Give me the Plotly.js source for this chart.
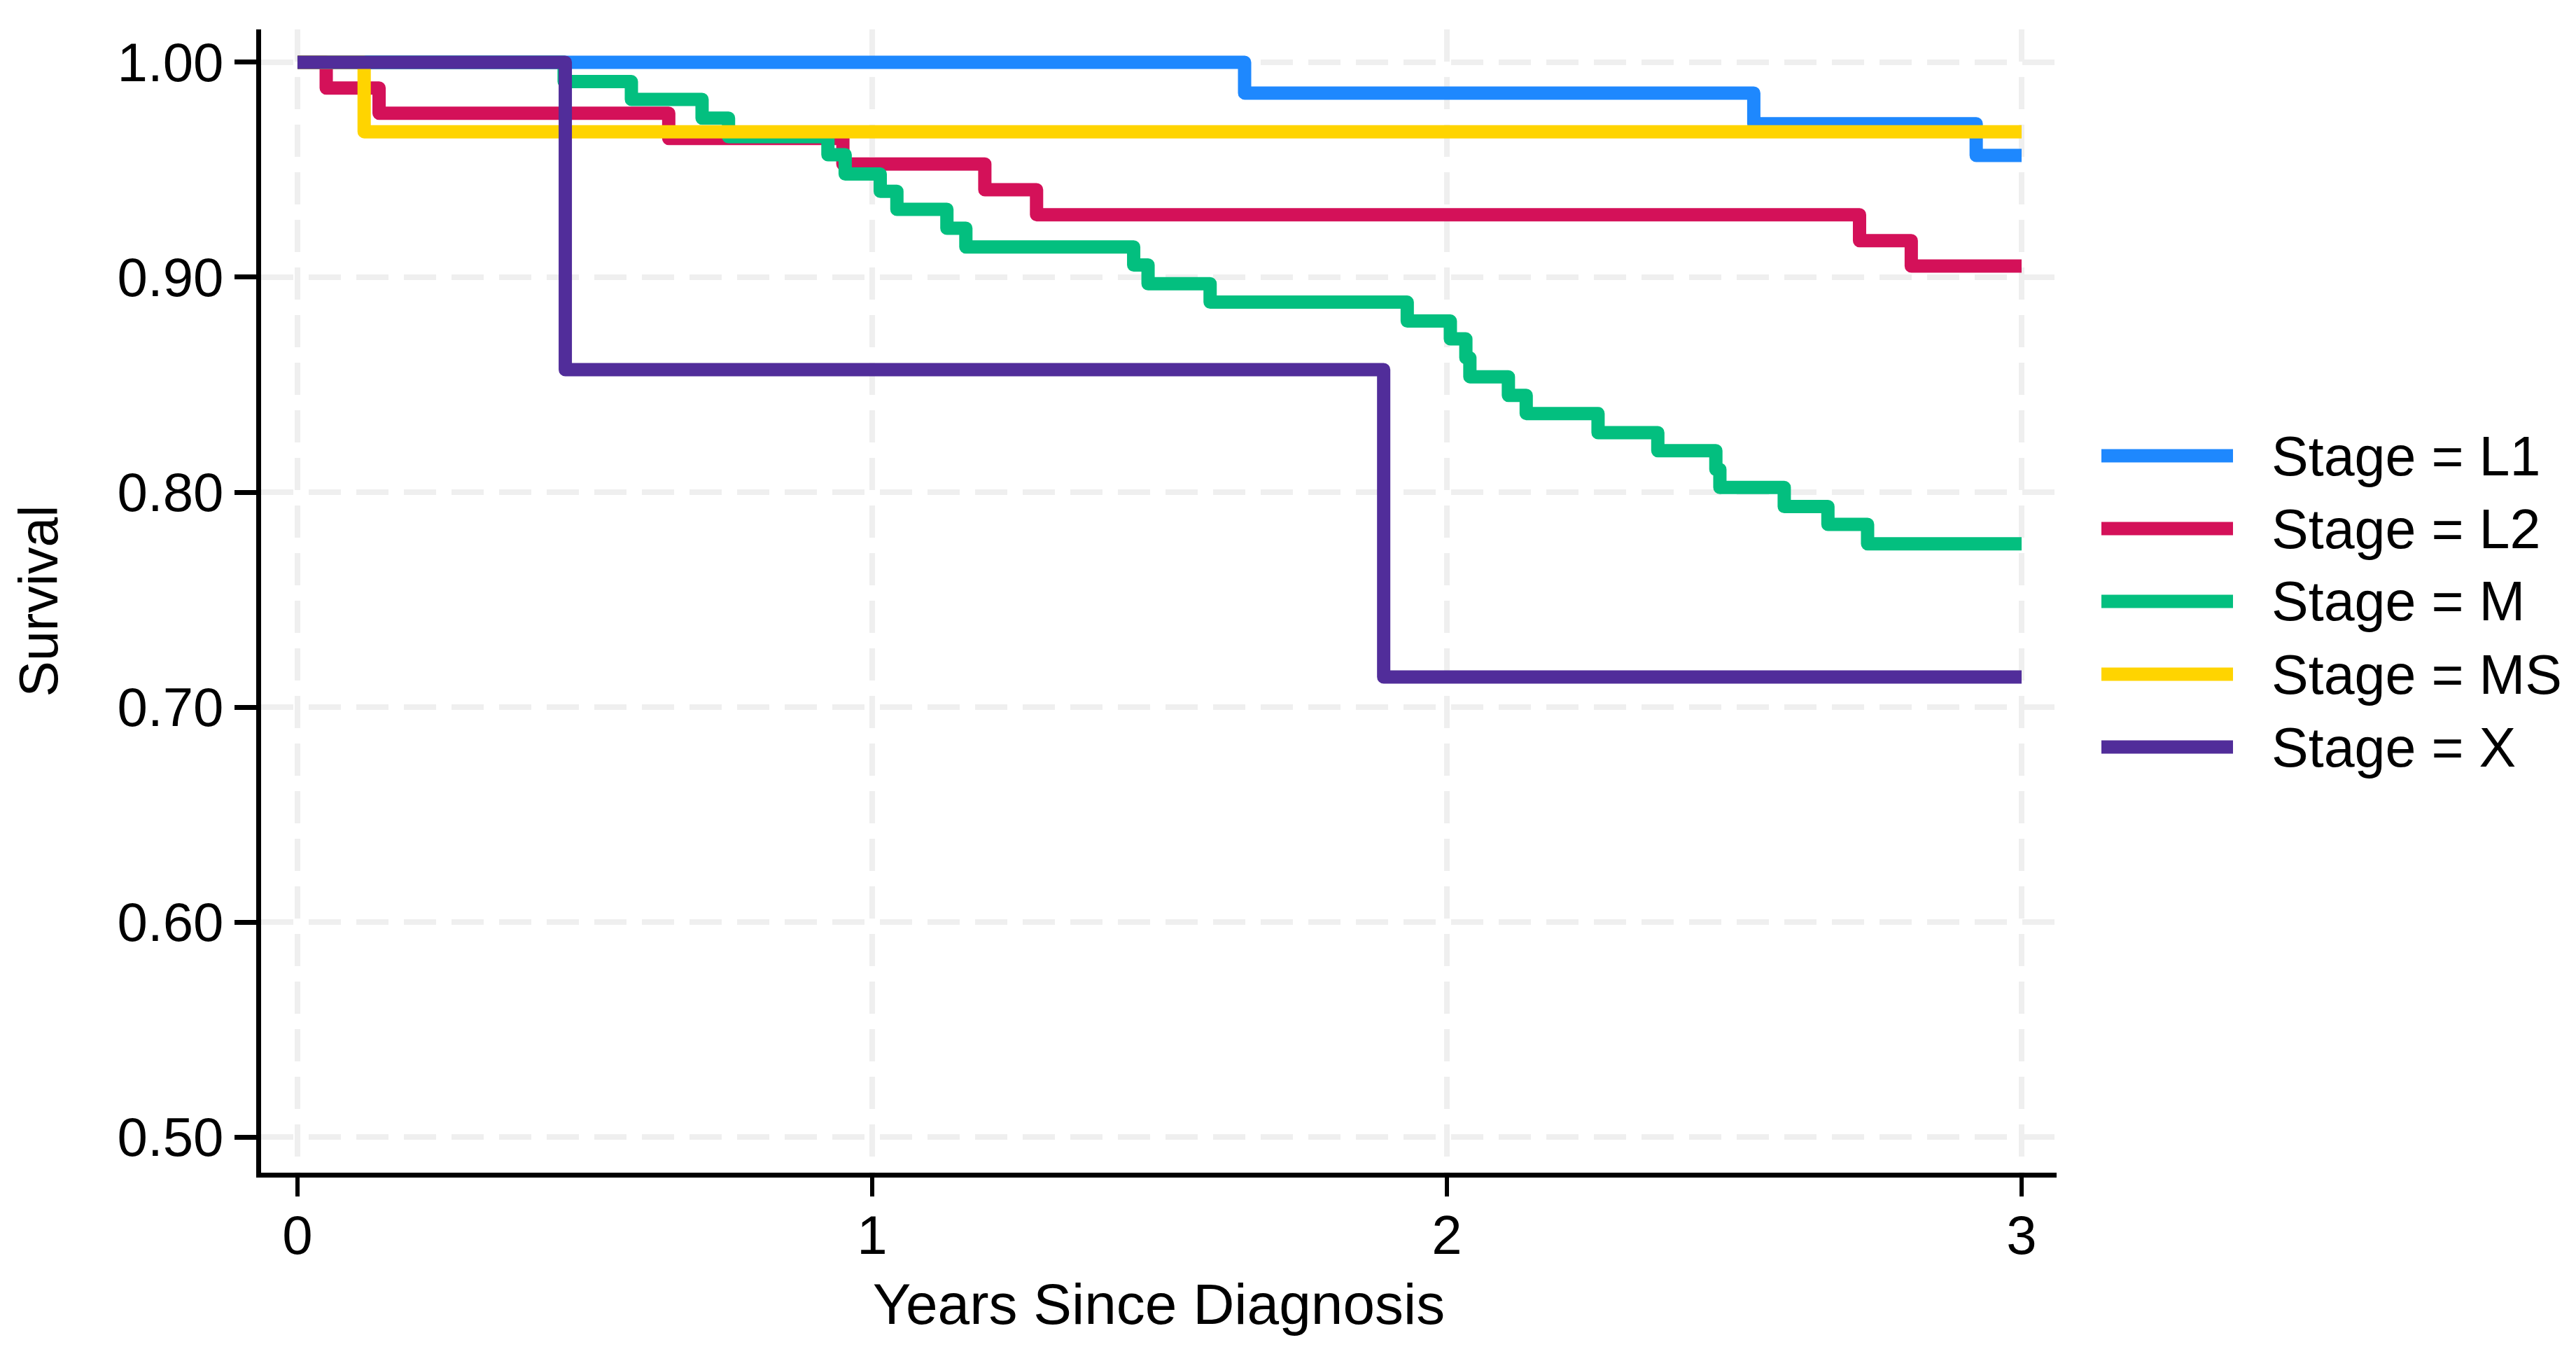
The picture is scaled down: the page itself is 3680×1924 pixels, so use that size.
<!DOCTYPE html>
<html>
<head>
<meta charset="utf-8">
<script src="https://cdn.plot.ly/plotly-3.0.1.min.js"></script>
<style>html,body{margin:0;padding:0;background:#fff;}#chart{width:3680px;height:1924px;}</style>
</head>
<body>
<div id="chart"></div>
<script>
// ---- data ----
const stageNames = ["Stage = L1", "Stage = L2", "Stage = M", "Stage = MS", "Stage = X"];
const stageColors = ["#1E88FE", "#D41159", "#03BF7F", "#FFD400", "#512D9A"];

const timeL1 = [0, 1.648, 2.534, 2.921, 3.0];
const survL1 = [1, 0.9857, 0.9714, 0.9567, 0.9567];

const timeL2 = [0, 0.050, 0.142, 0.646, 0.949, 1.196, 1.286, 2.718, 2.808, 3.0];
const survL2 = [1, 0.988, 0.9763, 0.9646, 0.9527, 0.9407, 0.9291, 0.917, 0.9052, 0.9052];

const timeM = [0, 0.464, 0.581, 0.704, 0.750, 0.923, 0.953, 1.014, 1.043, 1.130, 1.163, 1.455, 1.480, 1.588, 1.931,
               2.006, 2.033, 2.040, 2.107, 2.138, 2.263, 2.367, 2.468, 2.475, 2.587, 2.663, 2.732, 3.0];
const survM = [1, 0.991, 0.9827, 0.974, 0.9654, 0.957, 0.948, 0.940, 0.9316, 0.9228, 0.9141, 0.9057, 0.897, 0.8884, 0.8796,
               0.8713, 0.8625, 0.8537, 0.845, 0.8366, 0.8277, 0.8193, 0.8106, 0.8022, 0.7933, 0.785, 0.776, 0.776];

const timeMS = [0, 0.116, 3.0];
const survMS = [1, 0.9677, 0.9677];

const timeX = [0, 0.466, 1.890, 3.0];
const survX = [1, 0.857, 0.714, 0.714];

const xTickVals = [0, 1, 2, 3];
const xTickText = ["0", "1", "2", "3"];
const yTickVals = [0.5, 0.6, 0.7, 0.8, 0.9, 1.0];
const yTickText = ["0.50", "0.60", "0.70", "0.80", "0.90", "1.00"];

const xTitle = "Years Since Diagnosis";
const yTitle = "Survival";

// ---- layout geometry (pixels) ----
const W = 3680, H = 1924;
const M = {l: 373, r: 742, t: 42, b: 249};
const plotW = W - M.l - M.r, plotH = H - M.t - M.b;
const toPaperX = px => (px - M.l) / plotW;
const toPaperY = py => (H - M.b - py) / plotH;

const FONT = "Liberation Sans, Arial, sans-serif";

// ---- traces ----
const times = [timeL1, timeL2, timeM, timeMS, timeX];
const survs = [survL1, survL2, survM, survMS, survX];

const traces = stageNames.map((name, i) => ({
  type: "scatter",
  mode: "lines",
  name: name,
  x: times[i],
  y: survs[i],
  line: {shape: "hv", color: stageColors[i], width: 19},
  showlegend: false,
  hoverinfo: "skip"
}));

// ---- custom legend (swatch lines + real text) ----
const legSwatchX0 = 3002, legSwatchX1 = 3190, legTextX = 3243;
const legFirstY = 651, legStep = 104;
const shapes = [];
const annotations = [];
stageNames.forEach((name, i) => {
  const cy = legFirstY + i * legStep;
  shapes.push({
    type: "line", xref: "paper", yref: "paper", layer: "above",
    x0: toPaperX(legSwatchX0), x1: toPaperX(legSwatchX1),
    y0: toPaperY(cy), y1: toPaperY(cy),
    line: {color: stageColors[i], width: 19}
  });
  annotations.push({
    xref: "paper", yref: "paper",
    x: toPaperX(legTextX), y: toPaperY(cy),
    xanchor: "left", yanchor: "middle",
    text: name, showarrow: false,
    font: {family: FONT, size: 79, color: "#000000"}
  });
});

const gridCol = "#EFEFEF";

const layout = {
  width: W,
  height: H,
  paper_bgcolor: "#ffffff",
  plot_bgcolor: "#ffffff",
  margin: {l: M.l, r: M.r, t: M.t, b: M.b, pad: 0},
  font: {family: FONT, color: "#000000", size: 77},
  showlegend: false,
  shapes: shapes,
  annotations: annotations,
  xaxis: {
    range: [-0.0633, 3.0609],
    tickmode: "array",
    tickvals: xTickVals,
    ticktext: xTickText,
    ticks: "outside",
    ticklen: 27,
    tickwidth: 6,
    tickcolor: "#000000",
    ticklabelstandoff: -12,
    tickfont: {family: FONT, size: 78, color: "#000000"},
    showline: true,
    linecolor: "#000000",
    linewidth: 7,
    showgrid: true,
    gridcolor: gridCol,
    gridwidth: 8,
    griddash: "46px,22px",
    zeroline: false,
    title: {text: xTitle, font: {family: FONT, size: 82, color: "#000000"}, standoff: 30}
  },
  yaxis: {
    range: [0.4834, 1.0153],
    tickmode: "array",
    tickvals: yTickVals,
    ticktext: yTickText,
    ticks: "outside",
    ticklen: 31,
    tickwidth: 7,
    tickcolor: "#000000",
    tickfont: {family: FONT, size: 78, color: "#000000"},
    showline: true,
    linecolor: "#000000",
    linewidth: 7,
    showgrid: true,
    gridcolor: gridCol,
    gridwidth: 8,
    griddash: "46px,22px",
    zeroline: false,
    title: {text: yTitle, font: {family: FONT, size: 77, color: "#000000"}, standoff: 62}
  }
};

Plotly.newPlot("chart", traces, layout, {displayModeBar: false, staticPlot: true}).then(gd => {
  // rounded step corners as in the reference
  gd.querySelectorAll(".scatterlayer path.js-line").forEach(p => {
    p.style.strokeLinejoin = "round";
  });
});
</script>
</body>
</html>
